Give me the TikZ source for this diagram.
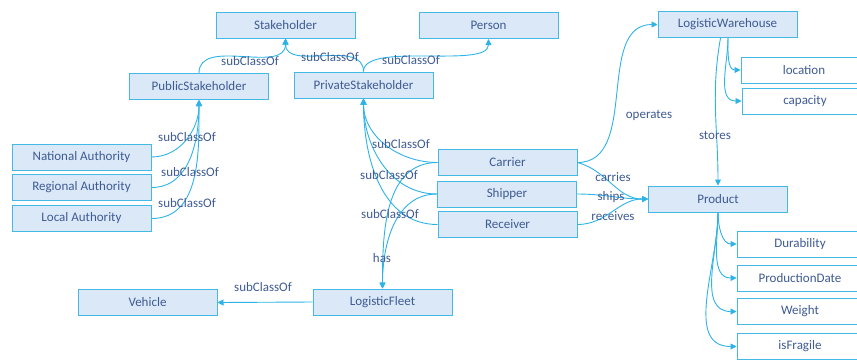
\documentclass[tikz,border=0pt]{standalone}
\usepackage{fontspec}
\setmainfont{Carlito}
\usetikzlibrary{arrows.meta}
\definecolor{boxfill}{HTML}{DAE8F7}
\definecolor{boxdraw}{HTML}{45B9E6}
\definecolor{edgecol}{HTML}{2DB3E6}
\definecolor{txtcol}{HTML}{3F5B94}
\begin{document}
\begin{tikzpicture}[x=1pt,y=-1pt,
  box/.style={draw=boxdraw,fill=boxfill,line width=1pt,minimum width=139pt,minimum height=26pt,inner sep=0pt,text=txtcol,font=\fontsize{13}{15}\selectfont},
  attr/.style={box,fill=white,minimum width=126pt},
  rel/.style={draw=edgecol,line width=0.9pt,-{Triangle[length=6pt,width=6pt]}},
  lbl/.style={text=txtcol,font=\fontsize{13}{15}\selectfont,inner sep=0pt}]
\useasboundingbox (0,0) rectangle (857,360);
% nodes
\node[box] (stake) at (285.5,25) {Stakeholder};
\node[box] (person) at (488.5,25.5) {Person};
\node[box] (wh) at (727.5,24.5) {LogisticWarehouse};
\node[box] (pub) at (199,86.5) {PublicStakeholder};
\node[box] (priv) at (363.5,85) {PrivateStakeholder};
\node[box] (nat) at (81.5,157) {National Authority};
\node[box] (reg) at (81.5,187.5) {Regional Authority};
\node[box] (loc) at (81.5,218.5) {Local Authority};
\node[attr] (location) at (804,70) {location};
\node[attr] (capacity) at (805,101) {capacity};
\node[box] (carrier) at (507.5,162.5) {Carrier};
\node[box] (shipper) at (507,194) {Shipper};
\node[box] (receiver) at (507.5,224.5) {Receiver};
\node[box] (product) at (718,199) {Product};
\node[attr] (dur) at (800,244) {Durability};
\node[attr] (pdate) at (800,278) {ProductionDate};
\node[attr] (weight) at (800,311.5) {Weight};
\node[attr] (frag) at (800,346.5) {isFragile};
\node[box] (fleet) at (382.5,302) {LogisticFleet};
\node[box] (vehicle) at (147.5,302.5) {Vehicle};
% edges
\draw[rel] (pub.north) to[out=90,in=-90] (stake.south);
\draw[rel] (priv.north) to[out=90,in=-90] (stake.south);
\draw[rel] (priv.north) to[out=90,in=-90,looseness=0.6] (person.south);
\draw[rel] (nat.east) to[out=0,in=-90] (pub.south);
\draw[rel] (reg.east) to[out=0,in=-90] (pub.south);
\draw[rel] (loc.east) to[out=0,in=-90] (pub.south);
\draw[rel] (carrier.west) to[out=180,in=-90] (priv.south);
\draw[rel] (shipper.west) to[out=180,in=-90] (priv.south);
\draw[rel] (receiver.west) to[out=180,in=-90] (priv.south);
\draw[rel] (carrier.west) to[out=180,in=90] (fleet.north);
\draw[rel] (shipper.west) to[out=180,in=90] (fleet.north);
\draw[rel] (fleet.west) -- (vehicle.east);
\draw[rel] (carrier.east) to[out=0,in=180] (wh.west);
\draw[rel] (carrier.east) to[out=-15,in=180] (product.west);
\draw[rel] (shipper.east) to[out=0,in=180] (product.west);
\draw[rel] (receiver.east) to[out=0,in=180] (product.west);
\draw[rel] ([xshift=0.5pt]wh.south) to[out=-90,in=180] (location.west);
\draw[rel] ([xshift=0.5pt]wh.south) to[out=-90,in=180] (capacity.west);
\draw[rel] ([xshift=-7pt]wh.south) to[out=-100,in=90] (product.north);
\draw[rel] (product.south) to[out=-90,in=180] (dur.west);
\draw[rel] (product.south) to[out=-90,in=180] (pdate.west);
\draw[rel] (product.south) to[out=-90,in=180] (weight.west);
\draw[rel] (product.south) to[out=-90,in=180] (frag.west);
% labels
\node[lbl] (l1) at (250,61) {subClassOf};
\node[lbl] (l2) at (330,57) {subClassOf};
\node[lbl] (l3) at (411,60) {subClassOf};
\node[lbl] (l4) at (187,137) {subClassOf};
\node[lbl] (l5) at (190,172) {subClassOf};
\node[lbl] (l6) at (187,203) {subClassOf};
\node[lbl] (l7) at (401,144) {subClassOf};
\node[lbl] (l8) at (389,175) {subClassOf};
\node[lbl] (l9) at (390,214) {subClassOf};
\node[lbl] (l10) at (382,258) {has};
\node[lbl] (l11) at (263,287) {subClassOf};
\node[lbl] (l12) at (649,115) {operates};
\node[lbl] (l13) at (715,135) {stores};
\node[lbl] (l14) at (613,177) {carries};
\node[lbl] (l15) at (611,197) {ships};
\node[lbl] (l16) at (613,216) {receives};
\end{tikzpicture}
\end{document}
